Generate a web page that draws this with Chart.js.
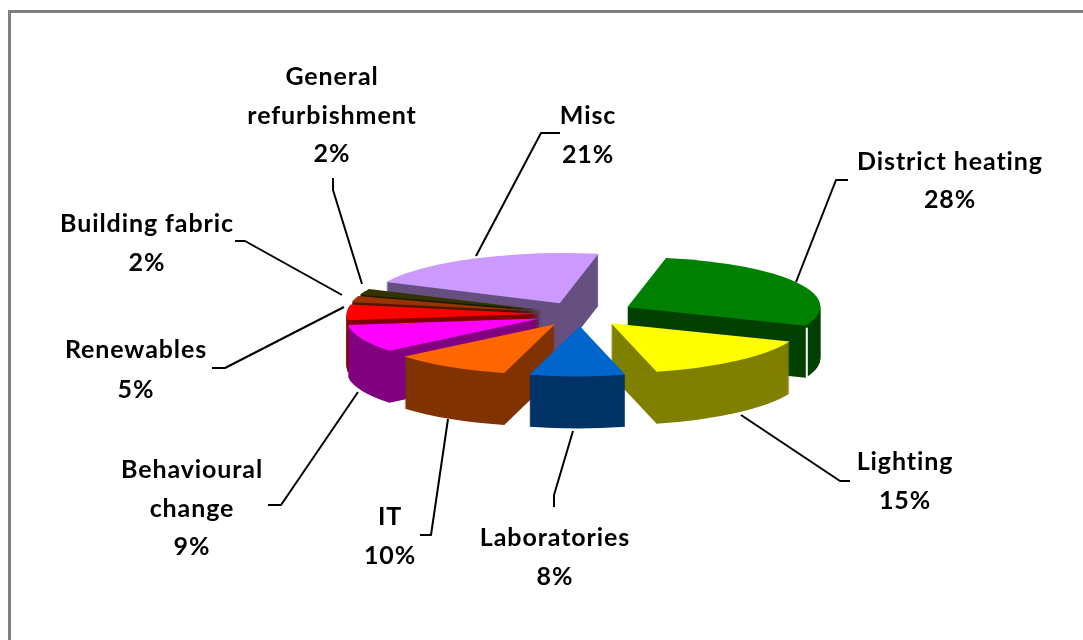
<!DOCTYPE html>
<html>
<head>
<meta charset="utf-8">
<script src="https://cdn.jsdelivr.net/npm/chart.js@4/dist/chart.umd.js"></script>
<style>
html,body{margin:0;padding:0;background:#fff;overflow:hidden}
#wrap{position:absolute;left:0;top:0;width:1083px;height:640px}
#frame{position:absolute;left:8px;top:10px;width:1200px;height:800px;border:3px solid #808080;box-sizing:border-box}
canvas{position:absolute;left:0;top:0}
</style>
</head>
<body>
<div id="wrap"><div id="frame"></div><canvas id="c" width="1083" height="640"></canvas></div>
<script>
const categories = ['District heating','Lighting','Laboratories','IT','Behavioural change','Renewables','Building fabric','General refurbishment','Misc'];
const shares = [28,15,8,10,9,5,2,2,21];
const topColours = ['#008000','#FFFF00','#0066CC','#FF6600','#FF00FF','#FF0000','#993300','#333300','#CC99FF'];
const wallColours = ['#004000','#808000','#003366','#803300','#800080','#800000','#4D1A00','#1A1A00','#665080'];

// Layout of the label block and leader line for each slice (not data).
const labelLayout = [
  {x:950,y:162,lines:['District heating'],pct:200,leader:[[848,180],[836,180],[796,282]]},
  {x:905,y:462,lines:['Lighting'],pct:501,leader:[[741,415],[840,481],[850,481]]},
  {x:555,y:538,lines:['Laboratories'],pct:577,leader:[[573,431],[554,495],[554,507]]},
  {x:390,y:517,lines:['IT'],pct:556,leader:[[448,419],[431,535],[420,535]]},
  {x:192,y:470,lines:['Behavioural','change'],pct:547,leader:[[358,392],[281,505],[268,505]]},
  {x:136,y:350,lines:['Renewables'],pct:390,leader:[[344,307],[225,368],[212,368]]},
  {x:147,y:224,lines:['Building fabric'],pct:263,leader:[[342,295],[245,241],[235,241]]},
  {x:332,y:77,lines:['General','refurbishment'],pct:154,leader:[[333,178],[333,190],[362,284]]},
  {x:588,y:116,lines:['Misc'],pct:155,leader:[[560,133],[541,133],[476,256]]}
];
const tilt = 0.26, shear = -0.065, depth = 52;
const shiftX = -2.5, shiftY = 3;
const explode = [53,47,47,47,44,41,41,41,47];

const pie3d = {
  id:'pie3d',
  beforeDatasetsDraw(chart){
    const ctx = chart.ctx, meta = chart.getDatasetMeta(0);
    const order = meta.data.map((arc,i)=>{
      const mid = (arc.startAngle+arc.endAngle)/2;
      return {arc,i,mid};
    }).sort((a,b)=>Math.sin(a.mid)-Math.sin(b.mid));
    const place = (o,dy)=>{
      const a = o.arc;
      ctx.translate(a.x+shiftX,a.y+shiftY+dy);
      ctx.transform(1,0,shear,1,0,0);
      ctx.scale(1,tilt);
      ctx.translate(Math.cos(o.mid)*explode[o.i],Math.sin(o.mid)*explode[o.i]);
    };
    const paint = (o,dy,colour)=>{
      const a = o.arc, saved = a.options;
      a.options = Object.assign(Object.create(saved),{backgroundColor:colour,borderColor:colour,borderWidth:0,offset:0});
      ctx.save();
      place(o,dy);
      ctx.translate(-a.x,-a.y);
      a.draw(ctx);
      ctx.restore();
      a.options = saved;
    };
    order.forEach(o=>{
      for(let d=depth;d>0;d--) paint(o,d,wallColours[o.i]);
      paint(o,0,topColours[o.i]);
      if(o.i===0){
        // pale seam where the cut face of the largest slice meets its rim
        const a=o.arc, r=a.outerRadius, e=a.endAngle;
        ctx.save(); place(o,0);
        const m=ctx.getTransform();
        const p=m.transformPoint(new DOMPoint(Math.cos(e)*r,Math.sin(e)*r));
        ctx.restore();
        ctx.save(); ctx.strokeStyle='#fff'; ctx.lineWidth=2;
        ctx.beginPath(); ctx.moveTo(p.x+1,p.y+2); ctx.lineTo(p.x+1,p.y+depth+2); ctx.stroke();
        ctx.restore();
      }
    });
    return false;
  },
  afterDraw(chart){
    const ctx = chart.ctx;
    ctx.save();
    ctx.strokeStyle='#000'; ctx.lineWidth=2; ctx.lineJoin='round';
    labelLayout.forEach(l=>{
      ctx.beginPath();
      l.leader.forEach((p,i)=> i?ctx.lineTo(p[0],p[1]):ctx.moveTo(p[0],p[1]));
      ctx.stroke();
    });
    ctx.fillStyle='#000'; ctx.textAlign='center'; ctx.textBaseline='middle';
    ctx.font='700 25px Lato, "Open Sans", sans-serif';
    ctx.letterSpacing='0.9px';
    labelLayout.forEach((l,i)=>{
      l.lines.forEach((t,j)=>ctx.fillText(t,l.x,l.y+j*38.5));
      ctx.fillText(shares[i]+'%',l.x,l.pct);
    });
    ctx.restore();
  }
};

new Chart(document.getElementById('c'),{
  type:'pie',
  data:{labels:categories,datasets:[{data:shares,backgroundColor:topColours,borderWidth:0}]},
  options:{
    responsive:false,animation:false,rotation:10.6,
    layout:{padding:{left:83,right:0,top:118,bottom:136}},
    plugins:{legend:{display:false},tooltip:{enabled:false}}
  },
  plugins:[pie3d]
});
</script>
</body>
</html>
